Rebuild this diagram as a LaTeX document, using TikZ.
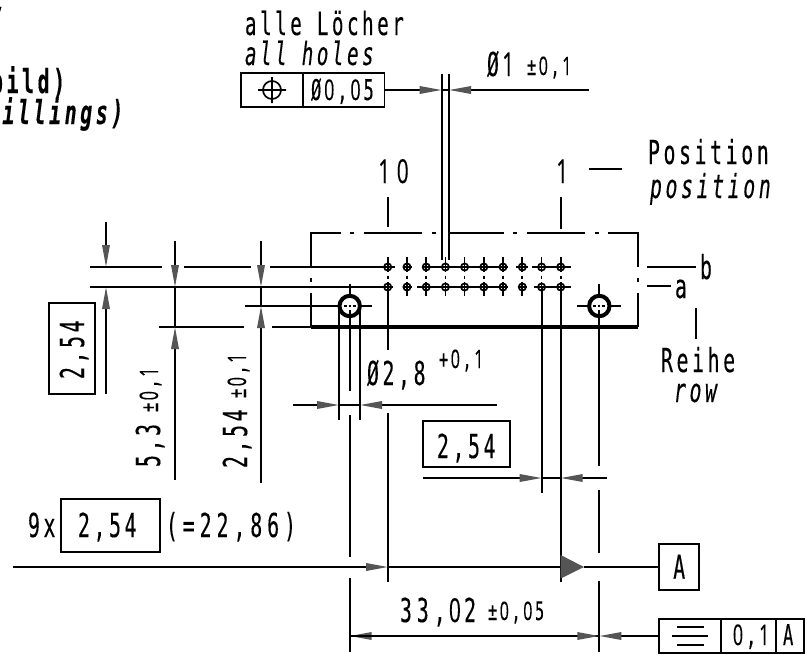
\documentclass[tikz,border=0pt]{standalone}
\usepackage{fontspec}
\usetikzlibrary{arrows.meta}
\newfontfamily\iso[FakeStretch=0.6,LetterSpace=11,FakeBold=0.25]{DejaVu Sans Mono}
\newfontfamily\isow[FakeStretch=0.6,LetterSpace=15,FakeBold=0.25]{DejaVu Sans Mono}
\newfontfamily\isoz[FakeStretch=0.63,LetterSpace=11,FakeBold=0.3]{Open Sans}
\newcommand{\Zr}{\kern.1em{\isoz 0}\kern.1em}
\newcommand{\On}{\kern.1em{\isoz 1}\kern.1em}
\newcommand{\szL}{\fontsize{33}{33}\selectfont}
\newcommand{\szK}{\fontsize{32}{32}\selectfont}
\newcommand{\szM}{\fontsize{28.5}{28.5}\selectfont}
\newcommand{\szS}{\fontsize{25.5}{25.5}\selectfont}
\definecolor{tipgray}{HTML}{555555}
\tikzset{
  ln/.style={line width=1.7pt,line cap=butt},
  thick ln/.style={line width=3.4pt},
  txt/.style={inner sep=0pt,outer sep=0pt,anchor=base west,font=\iso\szL},
  frm/.style={line width=1.8pt,draw=black},
  tip/.style={ln,-{Triangle[length=22pt,width=7.5pt,color=tipgray]}}
}
\begin{document}
\begin{tikzpicture}[x=1pt,y=-1pt]
\useasboundingbox[clip] (0,0) rectangle (805,654);
% clipped heading fragments
\node[txt,font=\iso\szL\bfseries\itshape] (frag1) at (-9,31) {/};
\node[txt,font=\iso\szL\bfseries] (frag2) at (-9,93) {bild)};
\node[txt,font=\iso\szL\bfseries\itshape] (frag3) at (-13,124) {rillings)};
% outline
\draw[ln] (311,267)--(311,233)--(341,233) (364,233)--(422,233) (450,233)--(504,233) (527,233)--(585,233) (608,233)--(638,233)--(638,267);
\draw[ln] (350,233)--(354,233) (432,233)--(436,233) (513,233)--(517,233) (595,233)--(599,233);
\draw[ln] (311,278)--(311,282) (638,278)--(638,282);
\draw[ln] (311,293)--(311,327) (638,293)--(638,327);
\draw[thick ln] (311,327)--(638,327);
% row lines
\draw[ln] (90,267)--(162,267) (184,267)--(251,267) (270,267)--(395,267);
\draw[ln] (402.7,267)--(411.7,267) (422,267)--(508,267) (516,267)--(528,267) (532,267)--(571,267);
\draw[ln] (90,287)--(393,287);
\draw[ln] (402.7,287)--(411.7,287) (417,287)--(508,287) (518,287)--(527,287) (534,287)--(571,287);
\draw[ln] (647,267)--(696,267) (647,286)--(671,286);
% small holes
\foreach \x in {387.7,407,426.2,445.4,464.6,483.8,503,522.3,541.6,560.7}{
  \draw[line width=1.7pt] (\x,267) circle (3.6pt) (\x,287) circle (3.6pt);
  \draw[ln] (\x,257)--(\x,272) (\x,282)--(\x,296);
  \draw[ln] (\x,275.5)--(\x,278.5);
}
% big holes
\foreach \x in {349.7,599.3}{
  \draw[line width=4pt] (\x,306) circle (10.2pt);
  \draw[ln] (\x,284)--(\x,296) (\x-22,306)--(\x-12,306) (\x+12,306)--(\x+22,306);
  \draw[ln] (\x,304.8)--(\x,307.2) (\x-6,306)--(\x-3,306) (\x+3,306)--(\x+6,306) (\x,310)--(\x,314);
}
% extension lines, horizontal
\draw[ln] (159,327)--(244,327) (272,327)--(311,327);
\draw[ln] (245,306)--(338,306);
% extension lines, vertical
\draw[ln] (388,287)--(388,350) (388,413)--(388,582);
\draw[ln] (349.7,316)--(349.7,391) (349.7,415)--(349.7,557) (349.7,578)--(349.7,652);
\draw[ln] (339,310)--(339,420) (360,310)--(360,420);
\draw[ln] (541.7,287)--(541.7,493);
\draw[line width=2.2pt] (560.7,287)--(560.7,582);
\draw[ln] (599.3,316)--(599.3,466) (599.3,490)--(599.3,552.7) (599.3,581)--(599.3,652);
\draw[ln] (441.7,74)--(441.7,260) (449,74)--(449,260);
\draw[ln] (388,197)--(388,227) (560.7,197)--(560.7,229);
\draw[ln] (589,169)--(622,169) (696,308)--(696,339);
% dimension lines
\coordinate (d1a) at (106,222); \coordinate (d1b) at (106,267);
\coordinate (d1c) at (106,394); \coordinate (d1d) at (106,287);
\draw[tip] (d1a)--(d1b); \draw[tip] (d1c)--(d1d);
\draw[tip] (175,241)--(175,287); \draw[ln] (175,287)--(175,327); \draw[tip] (175,480)--(175,327);
\draw[tip] (261,241)--(261,287); \draw[ln] (261,287)--(261,306); \draw[tip] (261,483)--(261,306);
\draw[tip] (293,405)--(339,405); \draw[tip] (497,405)--(360,405); \draw[ln] (339,405)--(360,405);
\draw[tip] (423,478)--(541.7,478); \draw[tip] (606.7,478)--(560.7,478); \draw[ln] (541.7,478)--(560.7,478);
\draw[tip] (384,90)--(441.7,90); \draw[tip] (589,90)--(449,90); \draw[ln] (441.7,90)--(449,90);
\draw[tip] (13,567)--(388,567);
\draw[ln] (388,567)--(561,567) (584,567)--(659,567);
\draw[tip] (599.3,636)--(349.7,636);
\draw[tip] (349.7,636)--(599.3,636);
\draw[tip] (659,636)--(599.3,636);
% datum triangle
\fill[tipgray] (560.7,555)--(584,567)--(560.7,578.5)--cycle;
% boxes
\node[draw,frm,inner sep=0pt,minimum width=40.3pt,minimum height=46pt,font=\iso\szL] (datum) at (679.2,566.7) {A};
\draw[frm] (241,73) rectangle (384.5,107.3) (302.7,73)--(302.7,107.3);
\draw[line width=1.7pt] (272,90) circle (9pt) (258,90)--(286,90) (272,77)--(272,103);
\draw[frm] (659,619) rectangle (804,653) (720.7,619)--(720.7,653) (776,619)--(776,653);
\draw[line width=2pt] (677,627)--(704,627) (672,636)--(708,636) (677,645)--(704,645);
\draw[frm] (49,303.3) rectangle (95,394);
\draw[frm] (423,421) rectangle (510,466.7);
\draw[frm] (61.3,498.7) rectangle (160.3,551.7);
% texts
\node[txt,font=\iso\szK] (t1) at (245,35) {alle Löcher};
\node[txt,font=\iso\szK] (t2) at (245,65) {\itshape all holes};
\node[txt,font=\iso\szM] (t3) at (311,100) {Ø\Zr,\Zr5};
\node[txt] (t4) at (487,76) {Ø\On};
\node[txt,font=\iso\szS] (t5) at (527,75) {±\Zr,\On};
\node[txt] (t6) at (375,183) {\On\Zr};
\node[txt] (t7) at (553,183) {\On};
\node[txt] (t8) at (648,164) {Position};
\node[txt] (t9) at (650,198) {\itshape position};
\node[txt] (t10) at (700,279) {b};
\node[txt] (t11) at (675,298) {a};
\node[txt] (t12) at (661,372) {Reihe};
\node[txt] (t13) at (674,402) {\itshape row};
\node[txt,rotate=90] (t14) at (84,379) {2,54};
\node[txt,rotate=90] (t15) at (160,467) {5,3};
\node[txt,font=\iso\szS,rotate=90] (t16) at (158,412) {±\Zr,\On};
\node[txt,rotate=90] (t17) at (247,468) {2,54};
\node[txt,font=\iso\szS,rotate=90] (t18) at (246,398) {±\Zr,\On};
\node[txt] (t19) at (367,385) {Ø2,8};
\node[txt,font=\iso\szS] (t20) at (439,368) {+\Zr,\On};
\node[txt] (t21) at (437,458) {2,54};
\node[txt] (t22) at (28,537) {9x};
\node[txt] (t23) at (78,537) {2,54};
\node[txt,font=\isow\szL] (t24) at (166,537) {(=22,86)};
\node[txt,font=\isow\szL] (t25) at (400,622) {33,\Zr2};
\node[txt,font=\iso\szS] (t26) at (488,620) {±\Zr,\Zr5};
\node[txt,font=\iso\szM] (t27) at (730,645) {\Zr,\On};
\node[txt,font=\iso\szM] (t28) at (783,645) {A};
\end{tikzpicture}
\end{document}
